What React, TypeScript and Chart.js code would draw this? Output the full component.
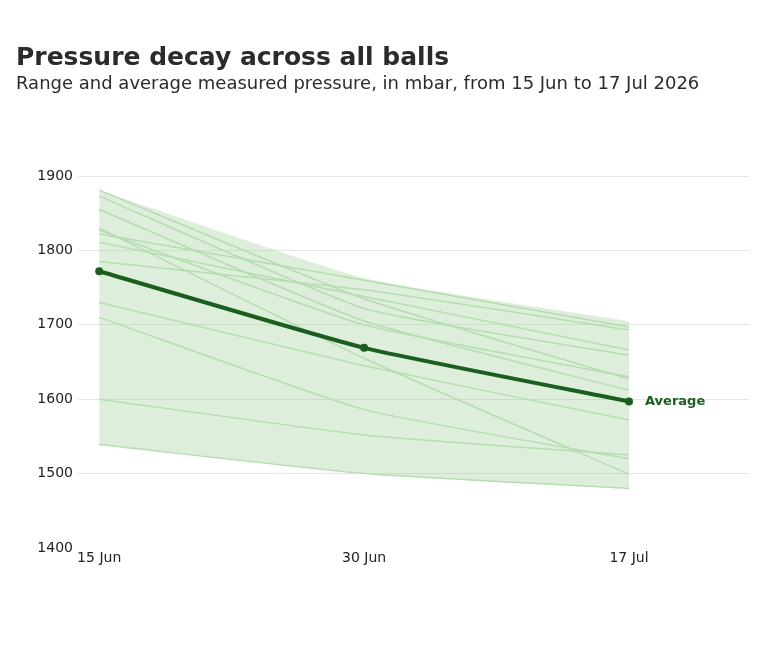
import { useEffect, useRef } from "react";
import { Chart, registerables } from "chart.js";

Chart.register(...registerables);

const dateLabels = ["15 Jun", "30 Jun", "17 Jul"];
const yTicks = [1400, 1500, 1600, 1700, 1800, 1900];

// one array per ball: 15 Jun, 30 Jun, 17 Jul
const ball01 = [1881, 1735, 1627];
const ball02 = [1873, 1722, 1659];
const ball03 = [1855, 1705, 1612];
const ball04 = [1830, 1655, 1499];
const ball05 = [1827, 1700, 1630];
const ball06 = [1822, 1760, 1697];
const ball07 = [1811, 1738, 1666];
const ball08 = [1785, 1747, 1693];
const ball09 = [1730, 1645, 1572];
const ball10 = [1710, 1586, 1520];
const ball11 = [1600, 1552, 1525];
const ball12 = [1539, 1500, 1480];

const rangeMax = [1881, 1763, 1705];
const rangeMin = [1539, 1500, 1480];
const average = [1772, 1669, 1597];

const balls = [ball01, ball02, ball03, ball04, ball05, ball06, ball07, ball08, ball09, ball10, ball11, ball12];

const FONT = "'DejaVu Sans', sans-serif";
const DARK = "#1b5e20";
const TENSION = 0.15;

const toPoints = (arr: number[]) => arr.map((y, i) => ({ x: i, y }));

const averageLabel = {
	id: "averageLabel",
	afterDatasetsDraw(chart: any) {
		const meta = chart.getDatasetMeta(0);
		const last = meta.data[meta.data.length - 1];
		if (!last) return;
		const ctx = chart.ctx;
		ctx.save();
		ctx.font = `bold 13px ${FONT}`;
		ctx.fillStyle = DARK;
		ctx.textAlign = "left";
		ctx.textBaseline = "middle";
		ctx.fillText("Average", last.x + 16, last.y);
		ctx.restore();
	},
};

export default function App() {
	const canvasRef = useRef<HTMLCanvasElement | null>(null);

	useEffect(() => {
		document.body.style.margin = "0";
		if (!canvasRef.current) return;

		const ballSets = balls.map((b, i) => ({
			label: `Ball ${i + 1}`,
			data: toPoints(b),
			borderColor: "#b6dcb1",
			borderWidth: 1.5,
			pointRadius: 0,
			fill: false,
			tension: TENSION,
			order: 1,
		}));

		const chart = new Chart(canvasRef.current, {
			type: "line",
			data: {
				datasets: [
					{
						label: "Average",
						data: toPoints(average),
						borderColor: DARK,
						backgroundColor: DARK,
						borderWidth: 4,
						pointRadius: 4,
						pointBorderWidth: 0,
						fill: false,
						tension: TENSION,
						order: 0,
					},
					...ballSets,
					{
						label: "Max",
						data: toPoints(rangeMax),
						borderWidth: 0,
						pointRadius: 0,
						backgroundColor: "rgba(150, 205, 140, 0.32)",
						fill: "+1",
						tension: TENSION,
						order: 2,
					},
					{
						label: "Min",
						data: toPoints(rangeMin),
						borderWidth: 0,
						pointRadius: 0,
						fill: false,
						tension: TENSION,
						order: 2,
					},
				],
			},
			options: {
				animation: false,
				responsive: false,
				devicePixelRatio: 1,
				layout: {
					padding: { left: 16, right: 31, top: 176, bottom: 80 },
				},
				plugins: {
					legend: { display: false },
					tooltip: { enabled: false },
				},
				scales: {
					x: {
						type: "linear",
						min: -0.08,
						max: 2.453,
						border: { display: false },
						grid: { display: false, drawTicks: false },
						afterBuildTicks: (axis: any) => {
							axis.ticks = dateLabels.map((_, i) => ({ value: i }));
						},
						afterFit: (axis: any) => {
							axis.height = 22;
						},
						ticks: {
							autoSkip: false,
							maxRotation: 0,
							padding: 2,
							color: "#222",
							font: { family: FONT, size: 14 },
							callback: (v: any) => dateLabels[v] ?? "",
						},
					},
					y: {
						min: yTicks[0],
						max: yTicks[yTicks.length - 1],
						border: { display: false },
						afterFit: (axis: any) => {
							axis.width = 62;
						},
						afterBuildTicks: (axis: any) => {
							axis.ticks = yTicks.map((v) => ({ value: v }));
						},
						grid: {
							drawTicks: false,
							color: (c: any) =>
								c.tick && c.tick.value === yTicks[0] ? "transparent" : "#e6e6e6",
						},
						ticks: {
							padding: 5,
							color: "#222",
							font: { family: FONT, size: 14 },
							callback: (v: any) => String(v),
						},
					},
				},
			},
			plugins: [averageLabel],
		});

		return () => {
			chart.destroy();
		};
	}, []);

	return (
		<div style={{ position: "relative", width: 780, height: 650, fontFamily: FONT, color: "#2b2b2b" }}>
			<div style={{ position: "absolute", left: 16, top: 42, fontSize: 25, fontWeight: "bold", lineHeight: "30px" }}>
				Pressure decay across all balls
			</div>
			<div style={{ position: "absolute", left: 16, top: 72, fontSize: 18, lineHeight: "22px" }}>
				Range and average measured pressure, in mbar, from 15 Jun to 17 Jul 2026
			</div>
			<canvas ref={canvasRef} width={780} height={650} style={{ display: "block" }}></canvas>
		</div>
	);
}
